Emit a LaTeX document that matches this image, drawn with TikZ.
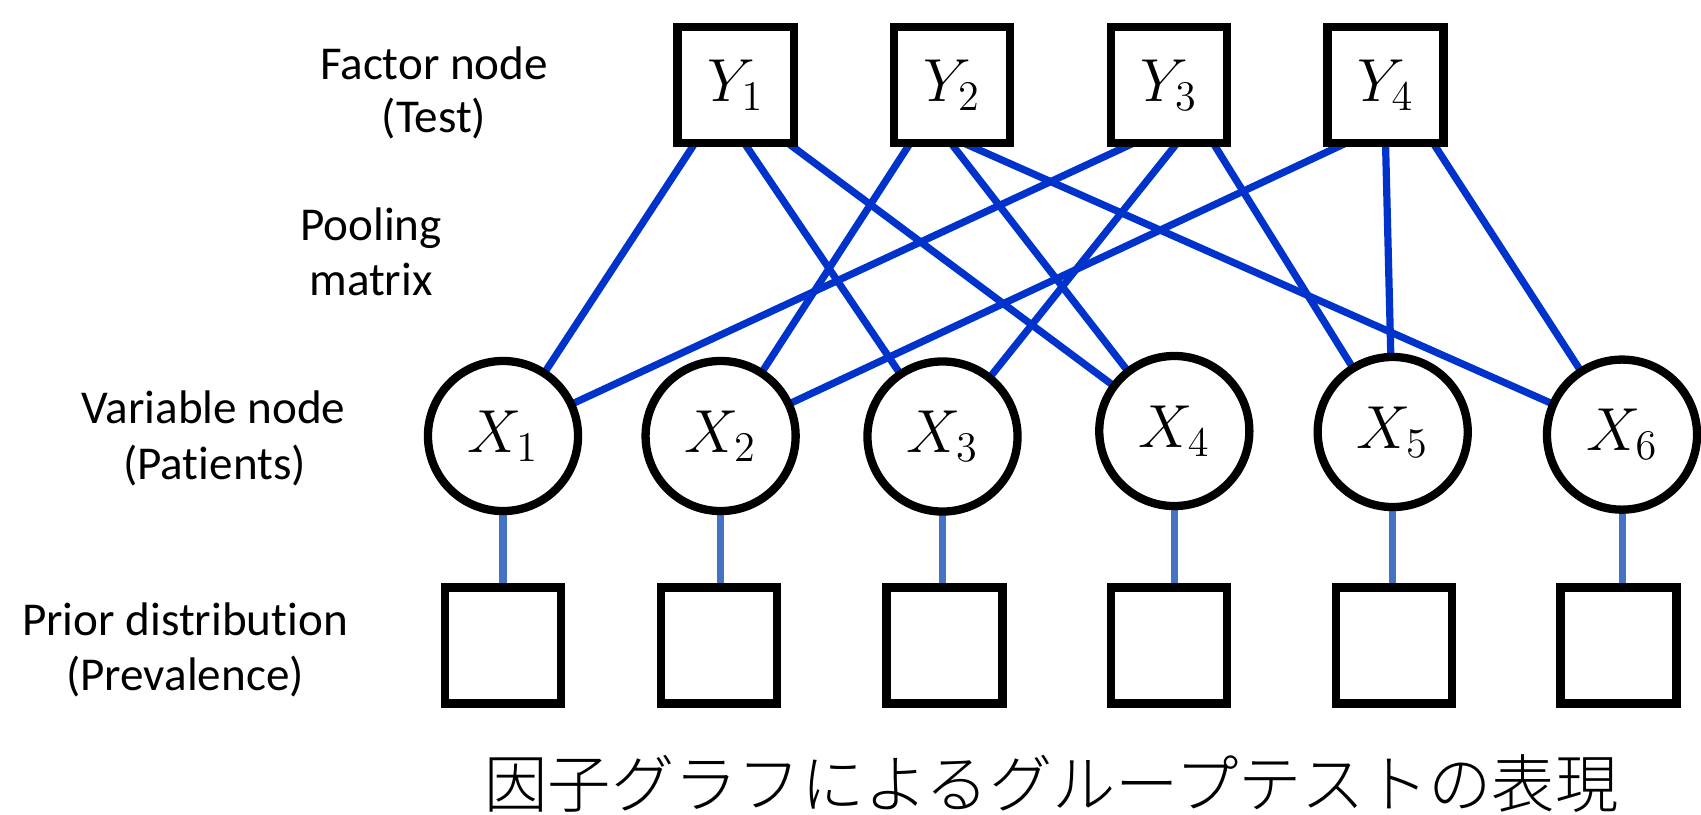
\documentclass[tikz,border=0pt]{standalone}
\usepackage{fontspec}
\setmainfont{Carlito}[Ligatures=NoCommon]
\newfontfamily\jpfont{Noto Sans CJK JP Light}
\usetikzlibrary{calc}
\pgfdeclarelayer{bg}
\pgfsetlayers{bg,main}
\definecolor{linkblue}{HTML}{0033CC}
\definecolor{priorblue}{HTML}{4472C4}
\newcommand\nodemathfont{\fontsize{17.28}{21}\selectfont}
\newcommand\sidelabelfont{\fontsize{13.4}{16}\selectfont}

\begin{document}
\begin{tikzpicture}[x=0.01cm, y=-0.01cm,
  every node/.style={outer sep=0pt},
  factorbox/.style={draw, line width=2.36pt, fill=white, minimum width=1.16cm,
    minimum height=1.16cm, inner sep=0pt, font=\nodemathfont},
  varnode/.style={draw, circle, line width=2.36pt, fill=white, minimum size=1.5cm,
    inner sep=0pt, font=\nodemathfont},
  sidelabel/.style={anchor=base, inner sep=0pt, font=\sidelabelfont},
  pool/.style={draw=linkblue, line width=2.05pt},
  priorlink/.style={draw=priorblue, line width=2pt}]

\useasboundingbox (0,0) rectangle (1701,814);

% factor nodes (tests)
\node[factorbox] (Y1) at (735.6,85) {$Y_1$};
\node[factorbox] (Y2) at (952,85) {$Y_2$};
\node[factorbox] (Y3) at (1169,85) {$Y_3$};
\node[factorbox] (Y4) at (1385.5,85) {$Y_4$};

% variable nodes (patients)
\node[varnode] (X1) at (503,436) {$X_1$};
\node[varnode] (X2) at (720.6,436) {$X_2$};
\node[varnode] (X3) at (942.5,436.5) {$X_3$};
\node[varnode] (X4) at (1174.3,431) {$X_4$};
\node[varnode] (X5) at (1392.7,432) {$X_5$};
\node[varnode] (X6) at (1622,434.6) {$X_6$};

% prior factors
\node[factorbox] (P1) at (503,645.5) {};
\node[factorbox] (P2) at (719,645.5) {};
\node[factorbox] (P3) at (944.5,645.5) {};
\node[factorbox] (P4) at (1169,645.5) {};
\node[factorbox] (P5) at (1394,645.5) {};
\node[factorbox] (P6) at (1618.5,645.5) {};

% pooling matrix edges and prior links, drawn beneath the nodes
\begin{pgfonlayer}{bg}
  \foreach \y/\f/\x in {1/0.15/1, 1/0.575/3, 1/0.95/4,
                        2/0.14/2, 2/0.49/4, 2/0.6/6,
                        3/0.195/1, 3/0.57/3, 3/0.88/5,
                        4/0.16/2, 4/0.5/5, 4/0.91/6}
    \draw[pool] ($(Y\y.south west)!\f!(Y\y.south east)$) -- (X\x.center);
  \foreach \i in {1,...,6}
    \draw[priorlink] (X\i.south) -- (X\i.south |- P\i.north);
\end{pgfonlayer}

% row labels
\node[sidelabel] (lf1) at (434,79) {Factor node};
\node[sidelabel] (lf2) at (434,132.7) {(Test)};
\node[sidelabel] (lp1) at (371,240.7) {Pooling};
\node[sidelabel] (lp2) at (371,295) {matrix};
\node[sidelabel] (lv1) at (213.5,423.3) {Variable node};
\node[sidelabel] (lv2) at (214.5,479) {(Patients)};
\node[sidelabel] (lr1) at (185,635) {Prior distribution};
\node[sidelabel] (lr2) at (185,690.7) {(Prevalence)};

% caption
\node[inner sep=0pt, font=\jpfont\fontsize{18}{22}\selectfont] (caption)
  at (1051.5,784) {因子グラフによるグループテストの表現};
\end{tikzpicture}
\end{document}
